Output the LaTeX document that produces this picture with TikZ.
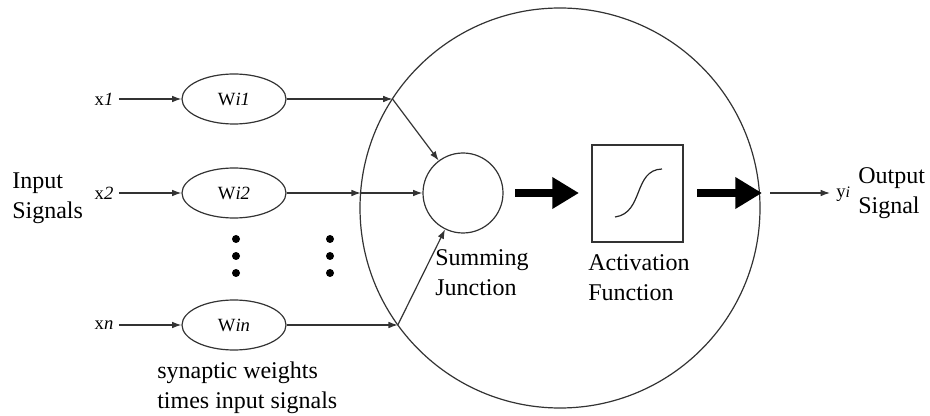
\documentclass[tikz,border=0pt]{standalone}
\usepackage{fontspec}
\setmainfont{Liberation Serif}
\usetikzlibrary{shapes.geometric,arrows.meta}
\begin{document}
\begin{tikzpicture}[x=0.75pt,y=-0.75pt,
  ln/.style={draw=black!80, line width=0.9pt},
  tip/.style={-{Latex[length=7pt,width=5pt]}},
  fat/.style={draw=black, line width=6pt, -{Triangle[length=20pt,width=22.5pt]}},
  wt/.style={ellipse, draw=black!80, line width=0.9pt, minimum width=78pt, minimum height=37.5pt, inner sep=0pt, font=\fontsize{14}{16}\selectfont},
  sm/.style={font=\fontsize{14}{16}\selectfont, inner ysep=0pt, inner xsep=4pt},
  lbl/.style={font=\fontsize{18}{22.5}\selectfont, align=left, inner sep=0pt},
  dotmark/.style={circle, fill=black, minimum size=6pt, inner sep=0pt}]
\useasboundingbox (0,0) rectangle (930,416);

% big circle
\node[circle, draw=black!80, line width=0.9pt, minimum size=300pt, inner sep=0pt] (big) at (560,208) {};

% weights
\node[wt] (w1) at (234,99) {W\textit{i1}};
\node[wt] (w2) at (234,193) {W\textit{i2}};
\node[wt] (wn) at (234,325) {W\textit{in}};

% inputs
\node[sm] (x1) at (104,99) {x\textit{1}};
\node[sm] (x2) at (104,193) {x\textit{2}};
\node[sm] (xn) at (104,325) {x\textit{n}};
\draw[ln,tip] (x1.east) -- (w1.west);
\draw[ln,tip] (x2.east) -- (w2.west);
\draw[ln,tip] (xn.east) -- (wn.west);

% summing junction and activation
\node[circle, draw=black!80, line width=0.9pt, minimum size=60pt, inner sep=0pt] (sum) at (463,193) {};
\node[rectangle, draw=black!80, line width=0.9pt, minimum width=68.25pt, minimum height=72.75pt, inner sep=0pt] (act) at (637.5,193.5) {};
\draw[black!85, line width=0.9pt] (615,217) .. controls (644,213) and (633,170) .. (662,169);

% points on the big circle
\coordinate (c1) at (392.5,99);
\coordinate (c2) at (360.8,193);
\coordinate (cn) at (397.8,325);

\draw[ln,tip] (w1.east) -- (c1);
\draw[ln,tip] (w2.east) -- (c2);
\draw[ln,tip] (wn.east) -- (cn);
\draw[ln,tip] (c1) -- (sum);
\draw[ln,tip] (c2) -- (sum.west);
\draw[ln,tip] (cn) -- (sum);

% thick arrows
\coordinate (f1s) at (515,193);
\coordinate (f1e) at (579,193);
\coordinate (f2s) at (697,193);
\coordinate (f2e) at (762,193);
\draw[fat] (f1s) -- (f1e);
\draw[fat] (f2s) -- (f2e);

% output
\coordinate (o1) at (770,193);
\node[sm, inner xsep=0pt, anchor=west] (yi) at (836,194) {y{\fontsize{12}{13}\selectfont\textit{i}}};
\coordinate (o2) at (830,193);
\draw[ln,tip] (o1) -- (o2);
\node[lbl, anchor=west] (outlbl) at (858,193) {Output\\Signal};

% dots
\foreach \yy [count=\k] in {239,256,273}{
  \node[dotmark] (da\k) at (236,\yy) {};
  \node[dotmark] (db\k) at (330,\yy) {};
}

% labels
\node[lbl, anchor=west] (inlbl) at (12,198.5) {Input\\Signals};
\node[lbl, anchor=west] (sumlbl) at (435,273) {Summing\\Junction};
\node[lbl, anchor=west] (actlbl) at (588,278) {Activation\\Function};
\node[lbl, anchor=west] (synlbl) at (157,387.5) {synaptic weights\\times input signals};
\end{tikzpicture}
\end{document}
